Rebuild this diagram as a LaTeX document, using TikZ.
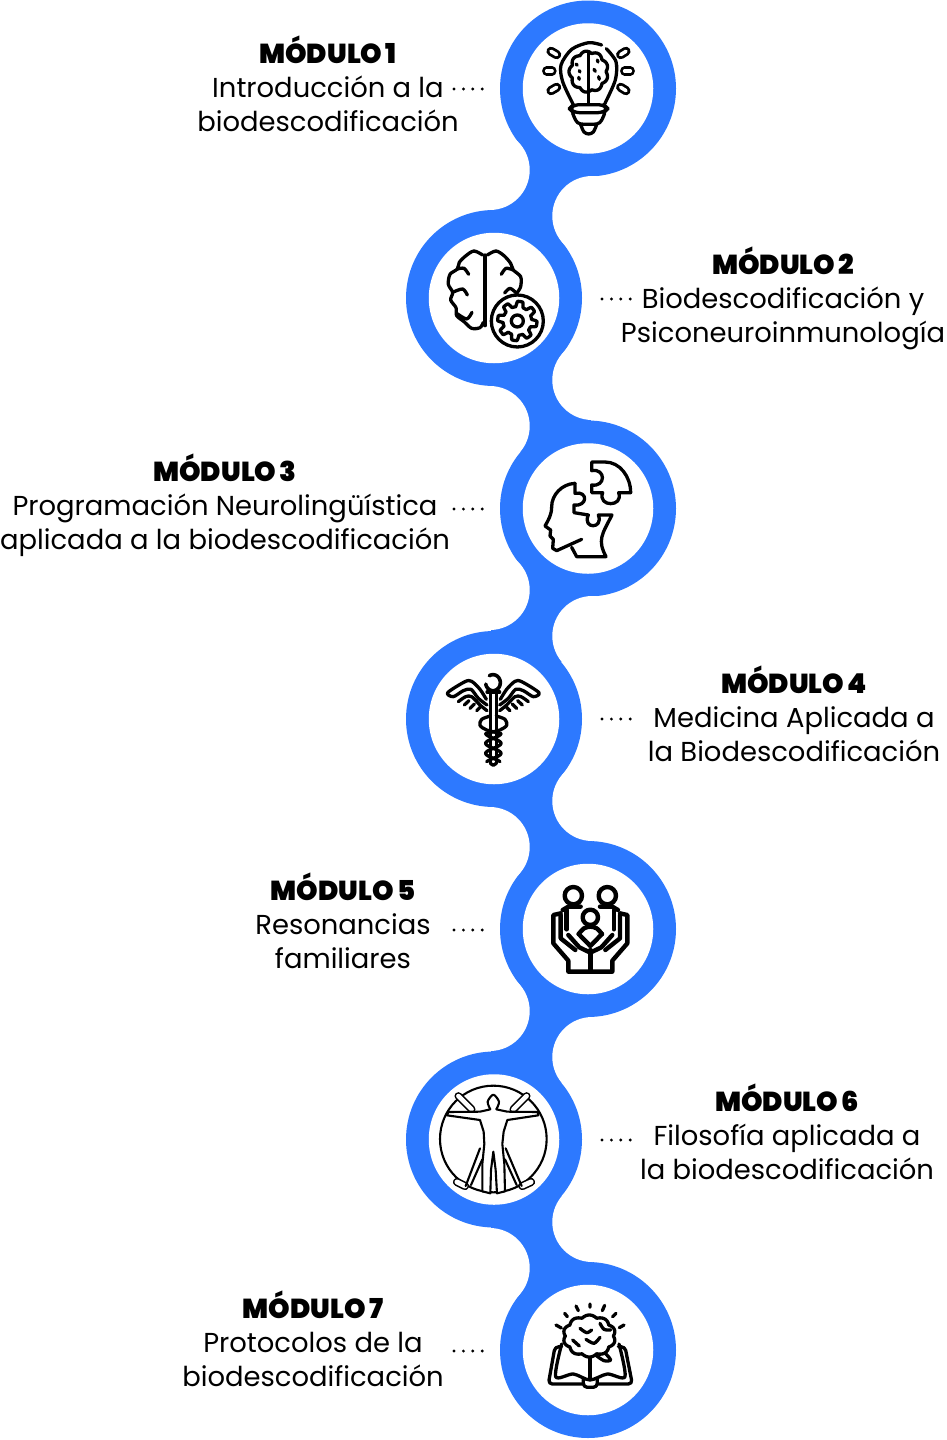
\documentclass[tikz,border=0pt]{standalone}
\usepackage{fontspec}
\usepackage{xcolor}
\setmainfont{Poppins}
\newfontfamily\heavyfont{Poppins Black}
\usetikzlibrary{calc}
\definecolor{ringblue}{HTML}{2D79FF}

\begin{document}
\begin{tikzpicture}[
  x=1pt, y=-1pt,
  ring/.style={circle, fill=ringblue, minimum size=176pt, inner sep=0pt},
  hole/.style={circle, fill=white, minimum size=130.5pt, inner sep=0pt},
  modtxt/.style={font=\fontsize{27.4}{34}\selectfont, align=center, inner sep=0pt, anchor=north, text=black},
  leader/.style={line width=3.2pt, line cap=round, dash pattern=on 0pt off 9.4pt, black},
  icon/.style={draw=black, line width=3.3pt, line cap=round, line join=round},
  boldicon/.style={draw=black, line width=4.4pt, line cap=round, line join=round},
  thinicon/.style={draw=black, line width=2.1pt, line cap=round, line join=round},
  capsule/.style={line width=2.8pt, double=white, double distance=3.6pt, line cap=round}
]
\useasboundingbox (0,0) rectangle (946,1440);

%--- Rings ---
\node[ring] (c1) at (588,88.5)  {};
\node[ring] (c2) at (494,298)   {};
\node[ring] (c3) at (588,508.5) {};
\node[ring] (c4) at (494,719)   {};
\node[ring] (c5) at (588,929)   {};
\node[ring] (c6) at (494,1139.5){};
\node[ring] (c7) at (588,1350)  {};

%--- Necks ---
\fill[ringblue] (c1.center) -- (489.7,170) -- (c2.center) -- (592.3,216) -- cycle;
\fill[ringblue] (c2.center) -- (592.3,380) -- (c3.center) -- (489.7,426) -- cycle;
\fill[ringblue] (c3.center) -- (489.7,590) -- (c4.center) -- (592.3,636) -- cycle;
\fill[ringblue] (c4.center) -- (592.3,801) -- (c5.center) -- (489.7,847) -- cycle;
\fill[ringblue] (c5.center) -- (489.7,1011) -- (c6.center) -- (592.3,1057) -- cycle;
\fill[ringblue] (c6.center) -- (592.3,1222) -- (c7.center) -- (489.7,1268) -- cycle;
\fill[white] (489.7,170) circle (40) (592.3,216) circle (40);
\fill[white] (592.3,380) circle (40) (489.7,426) circle (40);
\fill[white] (489.7,590) circle (40) (592.3,636) circle (40);
\fill[white] (592.3,801) circle (40) (489.7,847) circle (40);
\fill[white] (489.7,1011) circle (40) (592.3,1057) circle (40);
\fill[white] (592.3,1222) circle (40) (489.7,1268) circle (40);

%--- Holes ---
\node[hole] (h1) at (c1) {};
\node[hole] (h2) at (c2) {};
\node[hole] (h3) at (c3) {};
\node[hole] (h4) at (c4) {};
\node[hole] (h5) at (c5) {};
\node[hole] (h6) at (c6) {};
\node[hole] (h7) at (c7) {};

%--- Labels ---
\node[modtxt] (t1) at (328,36)  {{\heavyfont MÓDULO\hspace{.12em}1}\\Introducción a la\\biodescodificación};
\node[modtxt] (t2) at (783,247) {{\heavyfont MÓDULO\hspace{.12em}2}\\Biodescodificación y\\Psiconeuroinmunología};
\node[modtxt] (t3) at (225,454) {{\heavyfont MÓDULO\hspace{.12em}3}\\Programación Neurolingüística\\aplicada a la biodescodificación};
\node[modtxt] (t4) at (794,666) {{\heavyfont MÓDULO\hspace{.12em}4}\\Medicina Aplicada a\\la Biodescodificación};
\node[modtxt] (t5) at (343,873) {{\heavyfont MÓDULO\hspace{.12em}5}\\Resonancias\\familiares};
\node[modtxt] (t6) at (787,1084){{\heavyfont MÓDULO\hspace{.12em}6}\\Filosofía aplicada a\\la biodescodificación};
\node[modtxt] (t7) at (313,1291){{\heavyfont MÓDULO\hspace{.12em}7}\\Protocolos de la\\biodescodificación};

%--- Leaders ---
\coordinate (d1a) at (454,89);   \coordinate (d1b) at (483,89);
\coordinate (d2a) at (602,299);  \coordinate (d2b) at (631,299);
\coordinate (d3a) at (454,509);  \coordinate (d3b) at (483,509);
\coordinate (d4a) at (602,719);  \coordinate (d4b) at (631,719);
\coordinate (d5a) at (454,930);  \coordinate (d5b) at (483,930);
\coordinate (d6a) at (602,1140); \coordinate (d6b) at (631,1140);
\coordinate (d7a) at (454,1351); \coordinate (d7b) at (483,1351);
\draw[leader] (d1a) -- (d1b);
\draw[leader] (d2a) -- (d2b);
\draw[leader] (d3a) -- (d3b);
\draw[leader] (d4a) -- (d4b);
\draw[leader] (d5a) -- (d5b);
\draw[leader] (d6a) -- (d6b);
\draw[leader] (d7a) -- (d7b);

%--- Icon 1 : Bulb ---
\begin{scope}[shift={(490,0)}, x=.3333pt, y=-.3333pt]
  \draw[icon] plot[smooth] coordinates {(335,135) (296,128) (245,148) (213,195) (218,245) (248,310)};
  \draw[icon] plot[smooth] coordinates {(349,146) (378,185) (376,240) (345,310)};
  \draw[icon, rounded corners=6pt] (250,314) -- (342,314) -- (354,326) -- (342,338) -- (250,338) -- (238,326) -- cycle;
  \draw[icon] plot[smooth] coordinates {(248,340) (258,362) (272,372) (320,372) (334,362) (344,340)};
  \draw[icon] plot[smooth] coordinates {(272,374) (282,396) (296,402) (310,396) (320,374)};
  \draw[icon] (296,158) -- (296,312);
  \draw[icon] plot[domain=90:270, samples=73] ({296+(52+7*abs(sin(4.5*\x)))*cos(\x)}, {215+(55+7*abs(sin(4.5*\x)))*sin(\x)});
  \draw[icon] plot[domain=-90:90, samples=73] ({296+(52+7*abs(sin(4.5*\x)))*cos(\x)}, {215+(55+7*abs(sin(4.5*\x)))*sin(\x)});
  \draw[icon] (258,192) -- (262,196) (268,212) -- (270,216) (266,232) -- (268,238);
  \draw[icon] (322,180) -- (324,186) (312,208) -- (316,214) (326,230) -- (328,238);
  \draw[capsule] (183,154) -- (200,164);
  \draw[capsule] (170,213) -- (186,213);
  \draw[capsule] (183,272) -- (200,262);
  \draw[capsule] (392,164) -- (408,154);
  \draw[capsule] (404,213) -- (421,213);
  \draw[capsule] (392,262) -- (408,272);
\end{scope}

%--- Icon 2 : Brain with gear ---
\begin{scope}[shift={(400,205)}, x=.3333pt, y=-.3333pt]
  \draw[icon] plot[smooth] coordinates {(248,150) (222,138) (198,152) (178,172) (172,192) (150,208) (145,238) (158,262) (152,285) (168,308) (170,332) (192,350) (215,370) (240,368) (250,352)};
  \draw[icon] (255,150) -- (255,362);
  \draw[icon] plot[smooth] coordinates {(262,150) (288,138) (312,152) (332,175) (340,195) (362,215) (362,245) (350,265)};
  \draw[icon] plot[smooth] coordinates {(172,192) (192,190) (206,208)};
  \draw[icon] plot[smooth] coordinates {(158,262) (188,252) (202,270)};
  \draw[icon] plot[smooth] coordinates {(170,325) (200,342) (216,322)};
  \draw[icon] plot[smooth] coordinates {(304,208) (318,190) (340,195)};
  \draw[icon] plot[smooth] coordinates {(314,264) (330,250) (350,265)};
  \draw[icon, fill=white] (352,348) circle (78);
  \draw[icon] plot[domain=0:360, samples=181] ({352+(51+8*max(-1,min(1,2.2*sin(8*\x+22))))*cos(\x)}, {348+(51+8*max(-1,min(1,2.2*sin(8*\x+22))))*sin(\x)});
  \draw[icon] (352,348) circle (18);
\end{scope}

%--- Icon 3 : Puzzle head ---
\begin{scope}[shift={(520,440)}, x=.3333pt, y=-.3333pt]
  \draw[icon] (215,66) -- (255,66) .. controls (300,66) and (332,110) .. (332,158) -- (296,158)
    .. controls (312,202) and (232,202) .. (248,158) -- (215,158) -- (215,135)
    .. controls (258,142) and (258,84) .. (215,92) -- cycle;
  \draw[icon] (165,130) .. controls (125,132) and (95,165) .. (95,200) .. controls (95,225) and (85,240) .. (75,258)
    -- (92,270) -- (90,288) -- (100,298) -- (98,325) -- (110,332) -- (185,298);
  \draw[icon] (155,322) -- (170,350) -- (258,350) .. controls (232,300) and (245,285) .. (276,225) -- (235,225)
    .. controls (252,268) and (186,268) .. (205,225) -- (162,218) -- (162,195)
    .. controls (204,200) and (204,152) .. (165,160) -- (165,130);
\end{scope}

%--- Icon 4 : Caduceus ---
\begin{scope}[shift={(425,650)}, x=.3333pt, y=-.3333pt]
  \draw[icon, line width=3.6pt] plot[domain=240:530, samples=40, smooth] ({204+22*cos(\x)}, {98+24*sin(\x)});
  \draw[icon] (186,126) -- (224,126);
  \draw[icon] (196,128) -- (196,340);
  \draw[icon] (214,128) -- (214,340);
  \draw[icon] plot[smooth] coordinates {(184,148) (165,118) (140,94) (120,95) (68,128) (85,140) (115,122) (138,118) (160,145) (186,165)};
  \draw[icon] plot[smooth] coordinates {(100,155) (122,140) (140,140) (165,165) (186,182)};
  \draw[icon] (118,165) -- (132,152) (135,175) -- (148,162) (155,182) -- (165,172);
  \draw[icon] plot[smooth] coordinates {(226,148) (245,118) (270,94) (290,95) (342,128) (325,140) (295,122) (272,118) (250,145) (224,165)};
  \draw[icon] plot[smooth] coordinates {(310,155) (288,140) (270,140) (245,165) (224,182)};
  \draw[icon] (292,165) -- (278,152) (275,175) -- (262,162) (255,182) -- (245,172);
  \draw[icon] plot[smooth] coordinates {(196,198) (170,208) (165,226) (185,240) (226,250)};
  \draw[icon] plot[smooth] coordinates {(214,198) (240,208) (245,226) (225,240) (184,250)};
  \draw[icon] plot[domain=250:335, samples=50, smooth] ({205+23*sin(6*(\x-250)+90)}, \x);
  \draw[icon] plot[domain=250:335, samples=50, smooth] ({205-23*sin(6*(\x-250)+90)}, \x);
  \draw[icon] (196,340) -- (205,346) -- (214,340);
\end{scope}

%--- Icon 5 : Family in hands ---
\begin{scope}[shift={(520,860)}, x=.3333pt, y=-.3333pt]
  \draw[boldicon] (160,107) circle (26) (262,107) circle (26) (211,172) circle (23);
  \draw[boldicon] (128,150) -- (145,140) -- (182,140);
  \draw[boldicon] (294,150) -- (277,140) -- (240,140);
  \draw[boldicon] (140,150) -- (140,208) (282,150) -- (282,208);
  \draw[boldicon] plot[smooth] coordinates {(176,222) (192,205) (211,200) (230,205) (246,222)};
  \draw[boldicon] (176,222) -- (211,258) -- (246,222);
  \draw[boldicon] (122,160) -- (100,165) -- (100,250) -- (145,302) -- (145,335) -- (277,335) -- (277,302) -- (322,250) -- (322,165) -- (300,160);
  \draw[boldicon] (122,165) -- (122,235) -- (166,270);
  \draw[boldicon] (300,165) -- (300,235) -- (256,270);
  \draw[boldicon] (145,225) -- (178,262) -- (211,278) -- (244,262) -- (277,225);
  \draw[boldicon] (211,270) -- (211,335);
\end{scope}

%--- Icon 6 : Figure in circle ---
\begin{scope}[shift={(425,1070)}, x=.3333pt, y=-.3333pt]
  \draw[thinicon] (205,207) circle (160);
  \draw[capsule, double distance=4.5pt, line width=1.6pt] (100,78) -- (140,118);
  \draw[capsule, double distance=4.5pt, line width=1.6pt] (305,78) -- (265,118);
  \draw[capsule, double distance=5pt, line width=1.6pt] (96,336) -- (120,348);
  \draw[capsule, double distance=5pt, line width=1.6pt] (318,336) -- (292,348);
  \draw[thinicon, fill=white] plot[smooth] coordinates {(196,118) (188,95) (205,74) (222,95) (214,118)};
  \draw[thinicon, fill=white] (196,118) -- (165,125) -- (70,126) -- (66,136) -- (165,150) -- (176,185) -- (178,222) -- (172,282) -- (172,364) -- (196,370) -- (198,300) -- (205,245) -- (212,300) -- (216,370) -- (240,364) -- (238,282) -- (232,222) -- (236,185) -- (247,150) -- (340,136) -- (338,126) -- (247,125) -- (214,118);
  \draw[thinicon] (165,235) -- (122,348) (138,345) -- (172,268);
  \draw[thinicon] (242,235) -- (290,348) (275,345) -- (240,268);
\end{scope}

%--- Icon 7 : Brain on book ---
\begin{scope}[shift={(520,1280)}, x=.3333pt, y=-.3333pt]
  \draw[icon] (108,135) -- (124,144) (134,100) -- (142,110) (168,78) -- (175,92) (210,72) -- (210,82);
  \draw[icon] (254,76) -- (247,92) (288,100) -- (278,110) (312,135) -- (298,143);
  \draw[icon, rounded corners=4pt] (125,200) -- (105,200) -- (85,312) -- (190,312);
  \draw[icon, rounded corners=4pt] (295,200) -- (315,200) -- (337,312) -- (232,312);
  \draw[icon] plot[smooth] coordinates {(125,192) (107,290) (160,282) (210,300) (262,282) (315,290) (297,192)};
  \draw[icon] (210,232) -- (210,298);
  \draw[icon, rounded corners=4pt] (190,298) -- (190,322) -- (232,322) -- (232,298);
  \draw[icon, fill=white] plot[domain=0:360, samples=181] ({208+(72+7*abs(sin(5*\x)))*cos(\x)}, {168+(56+7*abs(sin(5*\x)))*sin(\x)});
  \draw[icon] plot[smooth] coordinates {(228,226) (252,242) (272,240) (256,220)};
  \draw[icon] plot[smooth] coordinates {(180,145) (200,158) (215,150)};
  \draw[icon] plot[smooth] coordinates {(198,178) (222,190) (240,172)};
  \draw[icon] plot[smooth] coordinates {(158,180) (178,198)};
  \draw[icon] plot[smooth] coordinates {(240,130) (252,148) (272,150)};
\end{scope}

\end{tikzpicture}
\end{document}
